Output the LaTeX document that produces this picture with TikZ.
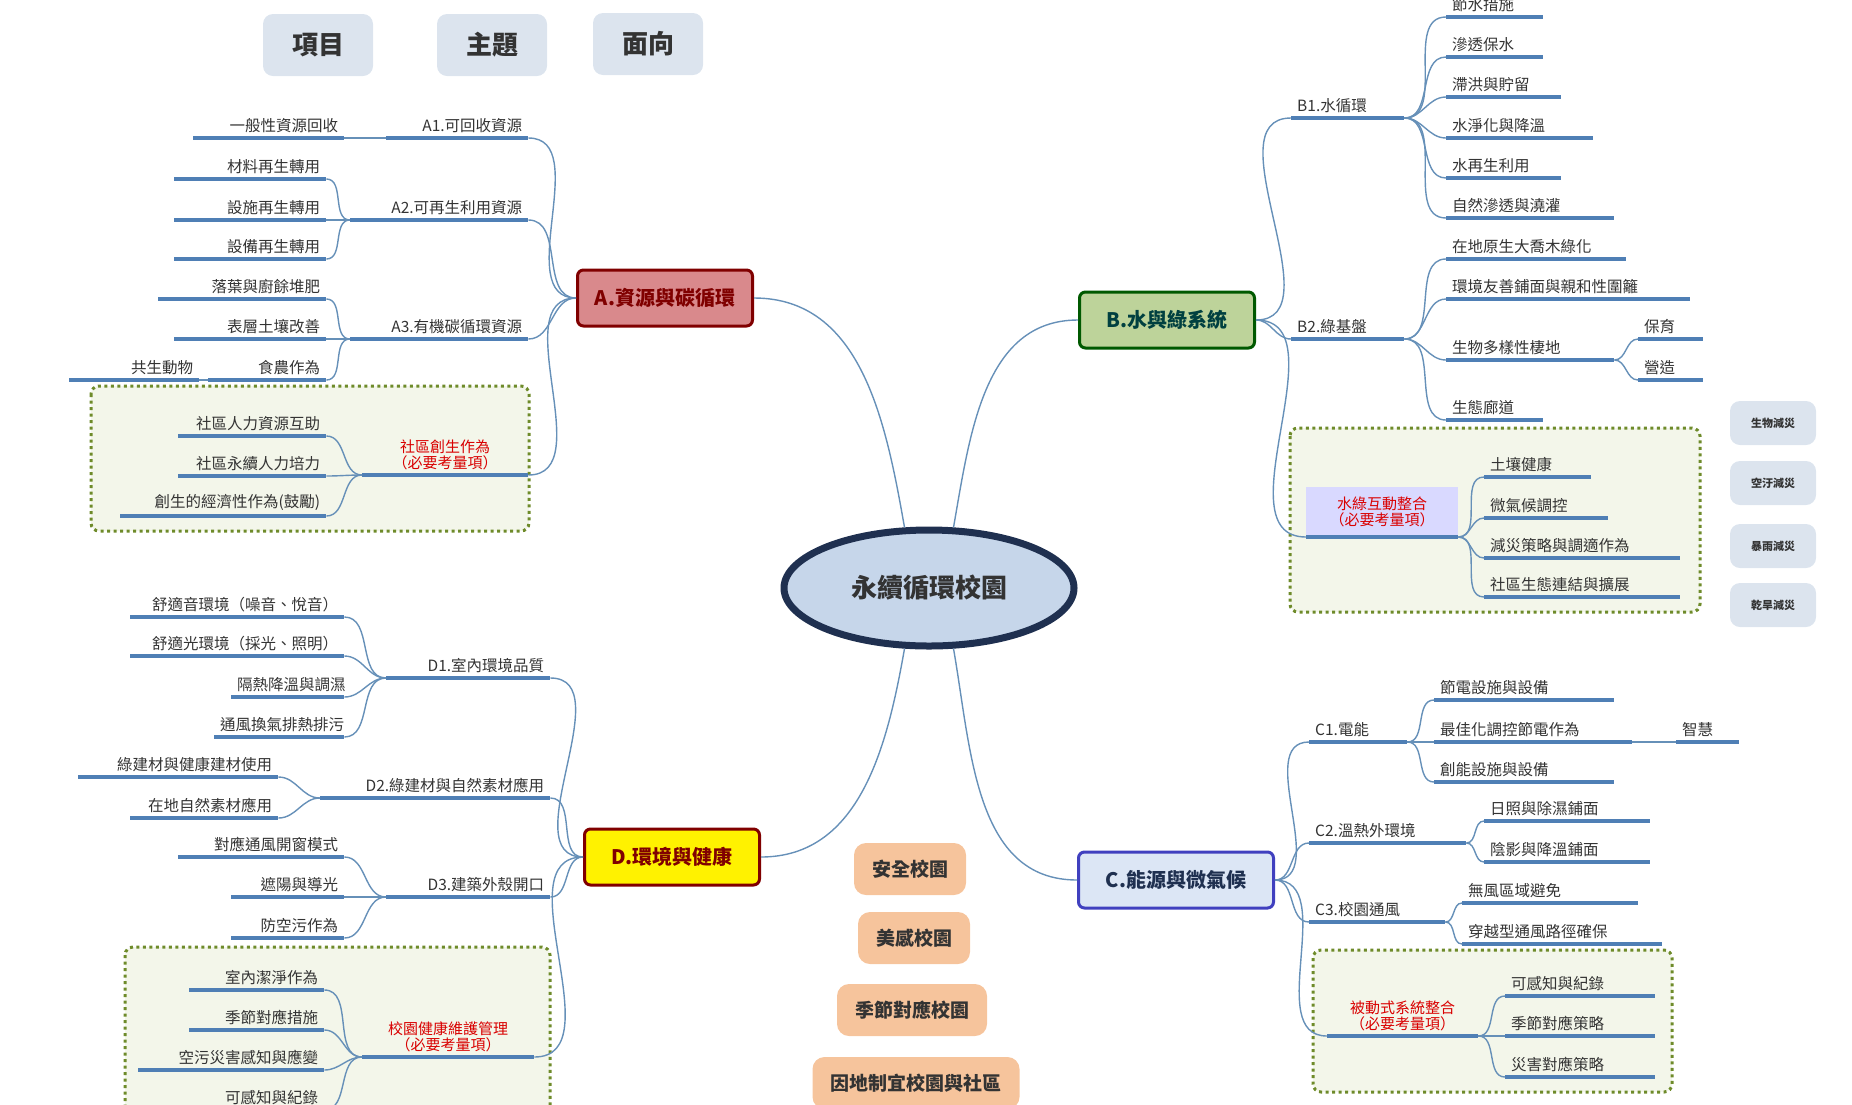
\documentclass[tikz,border=0pt]{standalone}
\usepackage{fontspec}
\setmainfont{Noto Sans CJK TC}
\usetikzlibrary{positioning,calc,shapes.geometric}
\definecolor{uline}{HTML}{4F7FB5}
\definecolor{connc}{HTML}{6690B8}
\definecolor{dotc}{HTML}{6E8B2A}
\definecolor{dotfill}{HTML}{F3F6EA}
\definecolor{greyb}{HTML}{DCE4EE}
\definecolor{orangeb}{HTML}{F6C49C}
\definecolor{navy}{HTML}{1F3050}
\definecolor{ellfill}{HTML}{C6D6EA}
\definecolor{rosefill}{HTML}{D9898C}
\definecolor{greenfill}{HTML}{BDD39A}
\definecolor{bluefill}{HTML}{DCE6F5}
\tikzset{
    every node/.style={font=\fontsize{15.5}{17}\selectfont, text=black!80},
    leaf/.style={inner xsep=6pt, inner ysep=5pt, anchor=south west,
      append after command={(\tikzlastnode.south west) edge[draw=uline, line width=4pt] (\tikzlastnode.south east)}},
    leafl/.style={leaf, align=right},
    leafr/.style={leaf, align=left},
    redlabel/.style={leaf, align=center, text=red!85!black, font=\fontsize{15}{16}\selectfont},
    conn/.style={draw=connc, line width=1.4pt},
    mainbox/.style={rounded corners=6pt, line width=3pt, minimum width=175pt, minimum height=56pt,
      font=\fontsize{20}{22}\selectfont\bfseries},
    dotbox/.style={draw=dotc, fill=dotfill, line width=3pt, dash pattern=on 3pt off 3.5pt, rounded corners=8pt},
    headbox/.style={fill=greyb, rounded corners=10pt, minimum width=110pt, minimum height=62pt,
      font=\fontsize{26}{28}\selectfont\bfseries},
    sidebox/.style={fill=greyb, rounded corners=10pt, minimum width=86pt, minimum height=44pt,
      font=\fontsize{11}{12}\selectfont\bfseries},
    orangebox/.style={fill=orangeb, rounded corners=12pt, minimum height=52pt, inner xsep=18pt,
      font=\fontsize{19}{21}\selectfont\bfseries},
}
\begin{document}
\begin{tikzpicture}[x=1pt,y=-1pt]
\useasboundingbox (0,0) rectangle (1852,1104);
\clip (0,0) rectangle (1852,1104);

% dotted groups
\draw[dotbox] (91,386) rectangle (529,531);
\draw[dotbox] (1290,428) rectangle (1700,612);
\draw[dotbox] (1313,950) rectangle (1672,1092);
\draw[dotbox] (125,947) rectangle (550,1130);

% header
\node[headbox] (item) at (318,45) {項目};
\node[headbox] (topic) at (492,45) {主題};
\node[headbox] (aspect) at (648,44) {面向};

% centre and main boxes
\node[ellipse, draw=navy, line width=7pt, fill=ellfill, minimum width=290pt, minimum height=116pt,
  font=\fontsize{26}{28}\selectfont\bfseries] (ctr) at (929,588) {永續循環校園};
\node[mainbox, draw=red!50!black, fill=rosefill, text=red!50!black] (A) at (665,298) {A.資源與碳循環};
\node[mainbox, draw=green!35!black, fill=greenfill, text=teal!50!black] (B) at (1167,320) {B.水與綠系統};
\node[mainbox, draw=blue!50!gray, fill=bluefill, text=navy, minimum width=195pt] (C) at (1176,880) {C.能源與微氣候};
\node[mainbox, draw=red!50!black, fill=yellow, text=red!50!black] (D) at (672,857) {D.環境與健康};

\draw[conn] (A.east) to[out=0,in=100] (ctr.112);
\draw[conn] (B.west) to[out=180,in=80] (ctr.68);
\draw[conn] (C.west) to[out=180,in=-80] (ctr.-68);
\draw[conn] (D.east) to[out=0,in=-100] (ctr.-112);

% left side: name/x1/x2/y/text
\foreach \n/\xa/\xb/\y/\t in {a1/193/344/138/一般性資源回收, a21/174/326/179/材料再生轉用,
  a22/174/326/220/設施再生轉用, a23/174/326/259/設備再生轉用, a31/158/326/299/落葉與廚餘堆肥,
  a32/174/326/339/表層土壤改善, a33/208/326/380/食農作為, a331/69/199/380/共生動物,
  a41/178/326/436/社區人力資源互助, a42/178/326/476/社區永續人力培力, a43/120/326/516/創生的經濟性作為(鼓勵),
  A1/386/528/138/A1.可回收資源, A2/350/528/220/A2.可再生利用資源, A3/350/528/339/A3.有機碳循環資源,
  d11/130/344/617/舒適音環境（噪音、悅音）, d12/130/344/656/舒適光環境（採光、照明）,
  d13/231/344/697/隔熱降溫與調濕, d14/214/344/737/通風換氣排熱排污, d21/78/278/777/綠建材與健康建材使用,
  d22/130/278/818/在地自然素材應用, d31/178/344/857/對應通風開窗模式, d32/231/344/897/遮陽與導光,
  d33/231/344/938/防空污作為, d41/189/324/990/室內潔淨作為, d42/189/324/1030/季節對應措施,
  d43/138/324/1070/空污災害感知與應變, d44/189/324/1110/可感知與紀錄,
  D1/386/550/678/D1.室內環境品質, D2/320/550/798/D2.綠建材與自然素材應用, D3/386/550/897/D3.建築外殼開口}{
  \pgfmathsetmacro\w{\xb-\xa-12}
  \node[leafl, text width=\w pt] (\n) at (\xa,\y) {\t};
}
% right side
\foreach \n/\xa/\xb/\y/\t in {b11/1446/1543/17/節水措施, b12/1446/1543/57/滲透保水, b13/1446/1561/97/滯洪與貯留,
  b14/1446/1593/138/水淨化與降溫, b15/1446/1561/178/水再生利用, b16/1446/1614/218/自然滲透與澆灌,
  b21/1446/1626/259/在地原生大喬木綠化, b22/1446/1690/299/環境友善鋪面與親和性圍籬,
  b23/1446/1614/360/生物多樣性棲地, b24/1446/1543/420/生態廊道, b231/1638/1703/339/保育, b232/1638/1703/380/營造,
  b31/1484/1591/477/土壤健康, b32/1484/1608/518/微氣候調控, b33/1484/1680/558/減災策略與調適作為,
  b34/1484/1680/597/社區生態連結與擴展, B1/1291/1404/118/B1.水循環, B2/1291/1404/339/B2.綠基盤,
  c11/1434/1614/700/節電設施與設備, c12/1434/1632/742/最佳化調控節電作為, c121/1676/1739/742/智慧,
  c13/1434/1614/782/創能設施與設備, c21/1484/1650/821/日照與除濕鋪面, c22/1484/1650/862/陰影與降溫鋪面,
  c31/1462/1638/903/無風區域避免, c32/1462/1662/944/穿越型通風路徑確保, c41/1505/1655/996/可感知與紀錄,
  c42/1505/1655/1036/季節對應策略, c43/1505/1655/1077/災害對應策略,
  C1/1309/1407/742/C1.電能, C2/1309/1466/843/C2.溫熱外環境, C3/1309/1445/922/C3.校園通風}{
  \pgfmathsetmacro\w{\xb-\xa-12}
  \node[leafr, text width=\w pt] (\n) at (\xa,\y) {\t};
}
% required items
\node[redlabel, text width=154pt] (A4) at (362,475) {社區創生作為\\（必要考量項）};
\node[redlabel, text width=160pt] (D4) at (362,1057) {校園健康維護管理\\（必要考量項）};
\node[redlabel, text width=139pt] (C4) at (1327,1036) {被動式系統整合\\（必要考量項）};
\node[redlabel, text width=140pt, fill=blue!15, minimum height=50pt] (B3) at (1306,537) {水綠互動整合\\（必要考量項）};

% connectors, left
\foreach \s in {A1,A2,A3,A4}{\draw[conn] (A.west) to[out=180,in=0] (\s.south east);}
\foreach \s in {D1,D2,D3,D4}{\draw[conn] (D.west) to[out=180,in=0] (\s.south east);}
\foreach \p/\c in {A1/a1, A2/a21, A2/a22, A2/a23, A3/a31, A3/a32, A3/a33, a33/a331, A4/a41, A4/a42, A4/a43,
  D1/d11, D1/d12, D1/d13, D1/d14, D2/d21, D2/d22, D3/d31, D3/d32, D3/d33, D4/d41, D4/d42, D4/d43, D4/d44}{
  \draw[conn] (\p.south west) to[out=180,in=0] (\c.south east);
}
% connectors, right
\foreach \s in {B1,B2,B3}{\draw[conn] (B.east) to[out=0,in=180] (\s.south west);}
\foreach \s in {C1,C2,C3,C4}{\draw[conn] (C.east) to[out=0,in=180] (\s.south west);}
\foreach \p/\c in {B1/b11, B1/b12, B1/b13, B1/b14, B1/b15, B1/b16, B2/b21, B2/b22, B2/b23, B2/b24, b23/b231, b23/b232,
  B3/b31, B3/b32, B3/b33, B3/b34, C1/c11, C1/c12, C1/c13, c12/c121, C2/c21, C2/c22, C3/c31, C3/c32,
  C4/c41, C4/c42, C4/c43}{
  \draw[conn] (\p.south east) to[out=0,in=180] (\c.south west);
}

% side tags
\node[sidebox] (g1) at (1773,423) {生物減災};
\node[sidebox] (g2) at (1773,483) {空汙減災};
\node[sidebox] (g3) at (1773,546) {暴雨減災};
\node[sidebox] (g4) at (1773,605) {乾旱減災};

% campus goals
\node[orangebox] (s1) at (910,869) {安全校園};
\node[orangebox] (s2) at (914,938) {美感校園};
\node[orangebox] (s3) at (912,1010) {季節對應校園};
\node[orangebox] (s4) at (916,1083) {因地制宜校園與社區};
\end{tikzpicture}
\end{document}
